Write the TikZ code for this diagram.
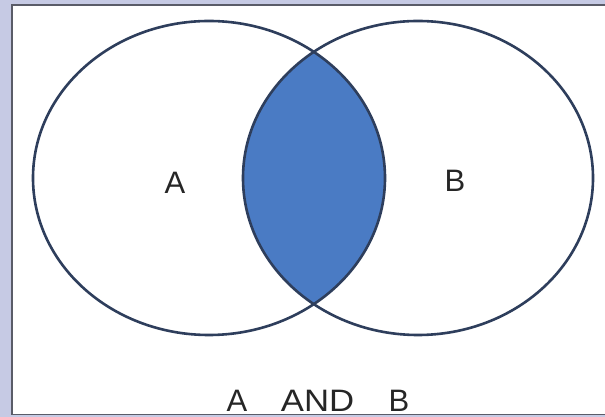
\documentclass[tikz,border=0pt]{standalone}
\usepackage{fontspec}
\setmainfont{Liberation Sans}
\definecolor{bgframe}{RGB}{198,202,228}
\definecolor{edgecol}{RGB}{46,62,92}
\definecolor{lensblue}{RGB}{74,123,196}
\definecolor{framegray}{RGB}{90,92,104}
\tikzset{
  setline/.style={draw=edgecol, line width=2.6pt},
  lbl/.style={font=\fontsize{31}{35}\selectfont, text=black!85, inner sep=0pt},
  botlbl/.style={lbl, anchor=base}
}
\begin{document}
\begin{tikzpicture}[x=1pt,y=1pt]
\useasboundingbox (0,0) rectangle (605,417);
\fill[bgframe] (0,0) rectangle (605,417);
\filldraw[fill=white, draw=framegray, line width=1.2pt] (12,2.5) rectangle (610,412);
\begin{scope}
  \clip (209,239) ellipse [x radius=176, y radius=157];
  \fill[lensblue] (418,239) ellipse [x radius=175, y radius=157];
\end{scope}
\draw[setline] (209,239) ellipse [x radius=176, y radius=157];
\draw[setline] (418,239) ellipse [x radius=175, y radius=157];
\node[lbl] (la) at (175,234) {A};
\node[lbl] (lb) at (455,236) {B};
\node[botlbl] (ba) at (237,5) {A};
\node[botlbl] (band) at (317.5,5) {\scalebox{1.12}[1]{AND}};
\node[botlbl] (bb) at (399,5) {B};
\end{tikzpicture}
\end{document}
